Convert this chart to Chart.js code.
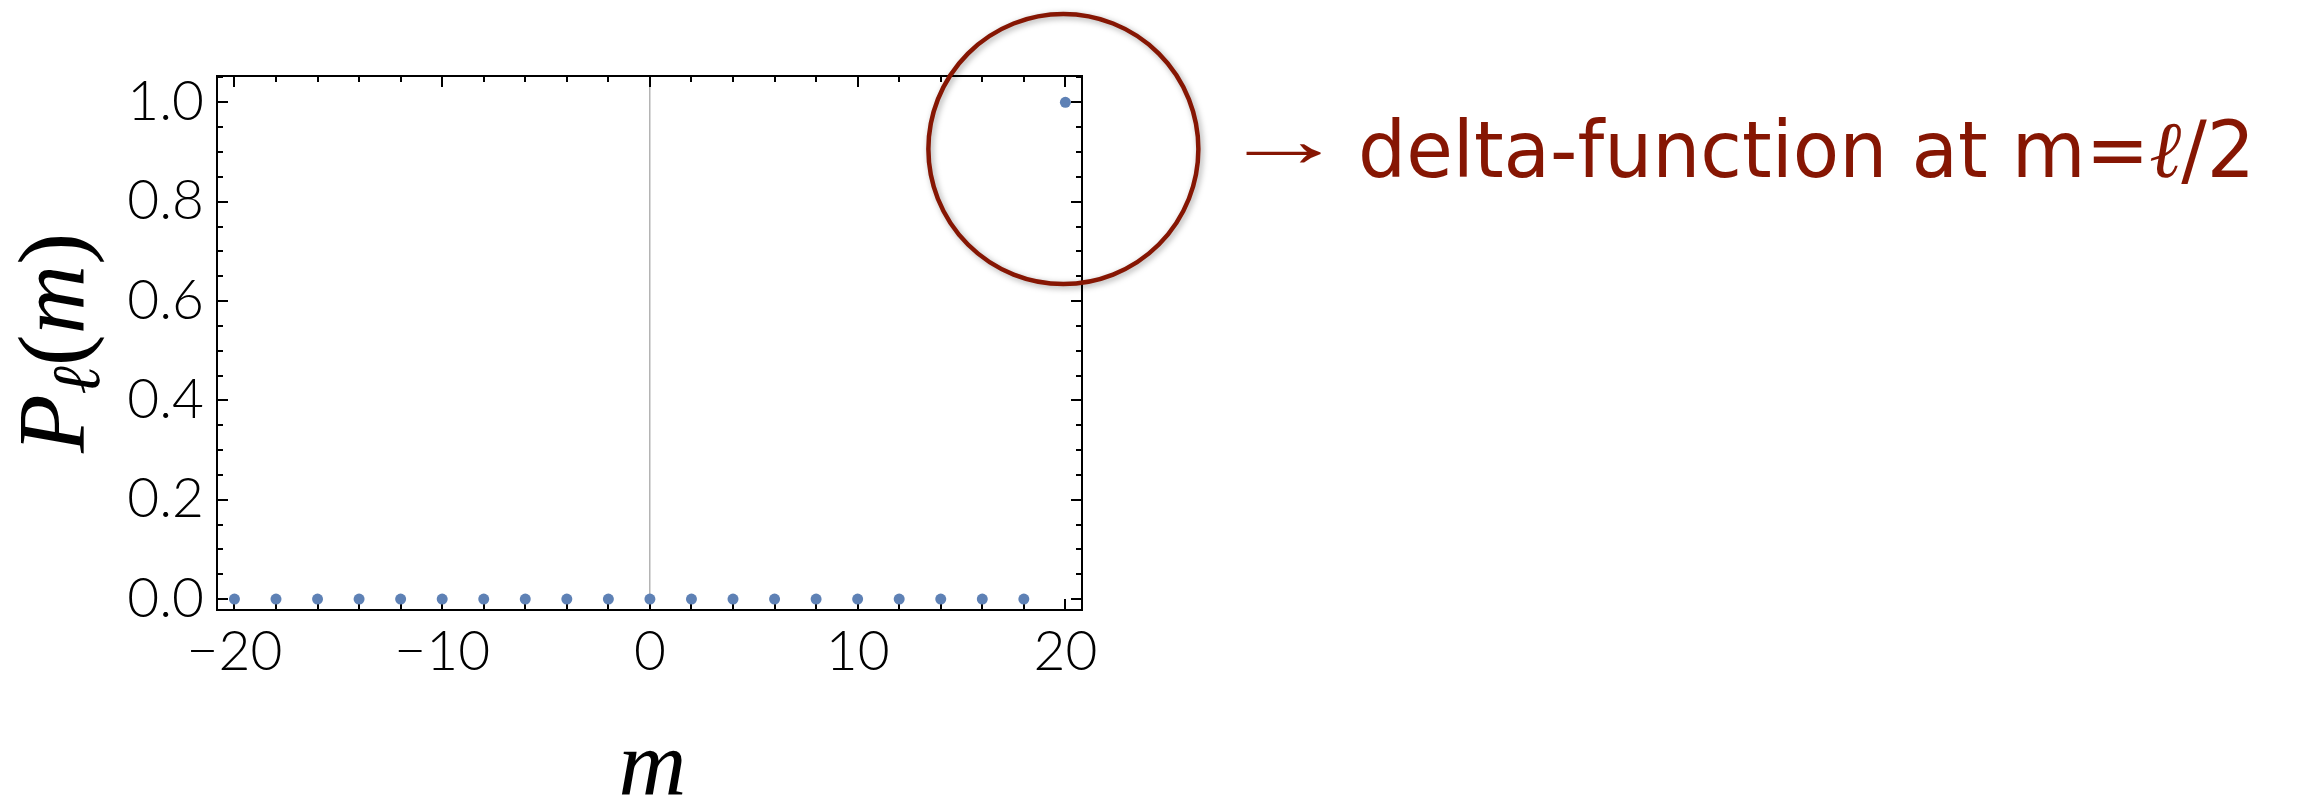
<!DOCTYPE html>
<html>
<head>
<meta charset="utf-8">
<title>P_l(m)</title>
<script src="https://cdn.jsdelivr.net/npm/chart.js@4.4.1/dist/chart.umd.min.js"></script>
<style>
  html, body { margin: 0; padding: 0; background: #fff; }
  #wrap { width: 2298px; height: 799px; }
</style>
</head>
<body>
<div id="wrap"><canvas id="pm" width="2298" height="799"></canvas></div>
<script>
// distribution P_l(m), l = 40, m runs over -l/2 .. l/2 in steps of 2
const mValues    = [-20, -18, -16, -14, -12, -10, -8, -6, -4, -2, 0, 2, 4, 6, 8, 10, 12, 14, 16, 18, 20];
const probValues = [  0,   0,   0,   0,   0,   0,  0,  0,  0,  0, 0, 0, 0, 0, 0,  0,  0,  0,  0,  0,  1];

const xTickValues = [-20, -10, 0, 10, 20];
const yTickValues = [0, 0.2, 0.4, 0.6, 0.8, 1.0];
const xMinorStep = 2;
const yMinorStep = 0.05;

const xTitle = 'm';
const yTitle = ['P', 'ℓ', '(', 'm', ')'];
const noteArrow = '→';
const noteParts = ['delta-function at m=', 'ℓ', '/2'];

const dotColor = '#5e81b5';
const noteColor = '#861603';
const serif = '"Liberation Serif", "DejaVu Serif", serif';
const tickFont = { family: 'Lato, "Liberation Sans", sans-serif', size: 55, weight: 300 };

// frame with inward major/minor ticks on all four sides
const framePlugin = {
  id: 'frame',
  beforeDatasetsDraw(chart) {
    const { ctx, chartArea: a, scales: { x, y } } = chart;
    ctx.save();
    ctx.strokeStyle = '#000';
    ctx.lineWidth = 2;
    ctx.beginPath();
    for (let v = xTickValues[0]; v <= xTickValues[xTickValues.length - 1]; v += xMinorStep) {
      const px = Math.round(x.getPixelForValue(v));
      const len = xTickValues.includes(v) ? 11 : 6;
      ctx.moveTo(px, a.bottom); ctx.lineTo(px, a.bottom - len);
      ctx.moveTo(px, a.top);    ctx.lineTo(px, a.top + len);
    }
    for (let i = 0; i * yMinorStep <= y.max; i++) {
      const py = Math.round(y.getPixelForValue(i * yMinorStep));
      const len = i % 4 === 0 ? 11 : 6;
      ctx.moveTo(a.left, py);  ctx.lineTo(a.left + len, py);
      ctx.moveTo(a.right, py); ctx.lineTo(a.right - len, py);
    }
    ctx.stroke();
    ctx.strokeRect(a.left, a.top, a.right - a.left, a.bottom - a.top);
    ctx.restore();
  }
};

// axis titles (y title needs a subscript, so both are drawn here)
const titlePlugin = {
  id: 'titles',
  afterDraw(chart) {
    const { ctx, chartArea: a } = chart;
    ctx.save();
    ctx.fillStyle = '#000';
    ctx.textBaseline = 'alphabetic';

    ctx.font = `italic 94px ${serif}`;
    ctx.textAlign = 'center';
    ctx.fillText(xTitle, (a.left + a.right) / 2 + 3, 795);

    const big = `italic 96px ${serif}`, sub = `italic 68px ${serif}`, up = `96px ${serif}`;
    const fonts = [big, sub, up, big, up];
    const shifts = [0, 15, 0, 0, 0];
    const widths = yTitle.map((t, i) => { ctx.font = fonts[i]; return ctx.measureText(t).width; });
    const total = widths.reduce((s, w) => s + w, 0);
    ctx.translate(84, (a.top + a.bottom) / 2);
    ctx.rotate(-Math.PI / 2);
    ctx.textAlign = 'left';
    let cx = -total / 2;
    yTitle.forEach((t, i) => {
      ctx.font = fonts[i];
      ctx.fillText(t, cx, shifts[i]);
      cx += widths[i];
    });
    ctx.restore();
  }
};

// circled end point with its note
const notePlugin = {
  id: 'note',
  afterDraw(chart) {
    const { ctx, chartArea: a, scales: { x, y } } = chart;
    ctx.save();
    ctx.shadowColor = 'rgba(0,0,0,0.35)';
    ctx.shadowBlur = 6;
    ctx.shadowOffsetX = 2;
    ctx.shadowOffsetY = 2;
    ctx.strokeStyle = noteColor;
    ctx.lineWidth = 4.5;
    ctx.beginPath();
    ctx.arc(x.getPixelForValue(20) - 2, y.getPixelForValue(0.906), 135, 0, Math.PI * 2);
    ctx.stroke();
    ctx.restore();

    ctx.save();
    ctx.fillStyle = noteColor;
    // arrow, its visible glyph stretched over 77px
    ctx.font = `78px ${serif}`;
    ctx.textBaseline = 'alphabetic';
    const am = ctx.measureText(noteArrow);
    const vis = am.actualBoundingBoxLeft + am.actualBoundingBoxRight;
    const sx = 77 / vis;
    ctx.save();
    ctx.translate(a.right + 163, 153 + (am.actualBoundingBoxAscent - am.actualBoundingBoxDescent) / 2);
    ctx.scale(sx, 1);
    ctx.fillText(noteArrow, am.actualBoundingBoxLeft, 0);
    ctx.restore();

    // text, squeezed to its width
    const fonts = ['79px "DejaVu Sans", sans-serif', `italic 80px ${serif}`, '79px "DejaVu Sans", sans-serif'];
    const widths = noteParts.map((t, i) => { ctx.font = fonts[i]; return ctx.measureText(t).width; });
    const total = widths.reduce((s, w) => s + w, 0);
    ctx.translate(a.right + 276, 177);
    ctx.scale(897 / total, 1);
    let cx = 0;
    noteParts.forEach((t, i) => {
      ctx.font = fonts[i];
      ctx.fillText(t, cx, 0);
      cx += widths[i];
    });
    ctx.restore();
  }
};

const fmtX = v => (v < 0 ? '\u2212' + Math.abs(v) : String(v));

new Chart(document.getElementById('pm'), {
  type: 'scatter',
  data: {
    datasets: [{
      data: mValues.map((m, i) => ({ x: m, y: probValues[i] })),
      backgroundColor: dotColor,
      borderWidth: 0,
      pointRadius: 5.5,
      pointHoverRadius: 5.5
    }]
  },
  options: {
    responsive: false,
    animation: false,
    events: [],
    layout: { padding: { left: 0, top: 76, right: 1216, bottom: 0 } },
    plugins: { legend: { display: false }, tooltip: { enabled: false } },
    scales: {
      x: {
        type: 'linear',
        min: -20.84,
        max: 20.8,
        afterBuildTicks: s => { s.ticks = xTickValues.map(v => ({ value: v })); },
        afterFit: s => { s.height = 189; },
        ticks: { font: tickFont, color: '#000', padding: 9, maxRotation: 0, autoSkip: false, callback: v => fmtX(v) },
        grid: {
          drawTicks: false,
          lineWidth: 1.5,
          color: c => (c.tick && c.tick.value === 0 ? '#b4b4b4' : 'rgba(0,0,0,0)')
        },
        border: { display: false }
      },
      y: {
        type: 'linear',
        min: -0.022,
        max: 1.053,
        afterBuildTicks: s => { s.ticks = yTickValues.map(v => ({ value: v })); },
        afterFit: s => { s.width = 217; },
        ticks: { font: tickFont, color: '#000', padding: 13, autoSkip: false, callback: v => v.toFixed(1) },
        grid: { display: false, drawTicks: false },
        border: { display: false }
      }
    }
  },
  plugins: [framePlugin, titlePlugin, notePlugin]
});
</script>
</body>
</html>
